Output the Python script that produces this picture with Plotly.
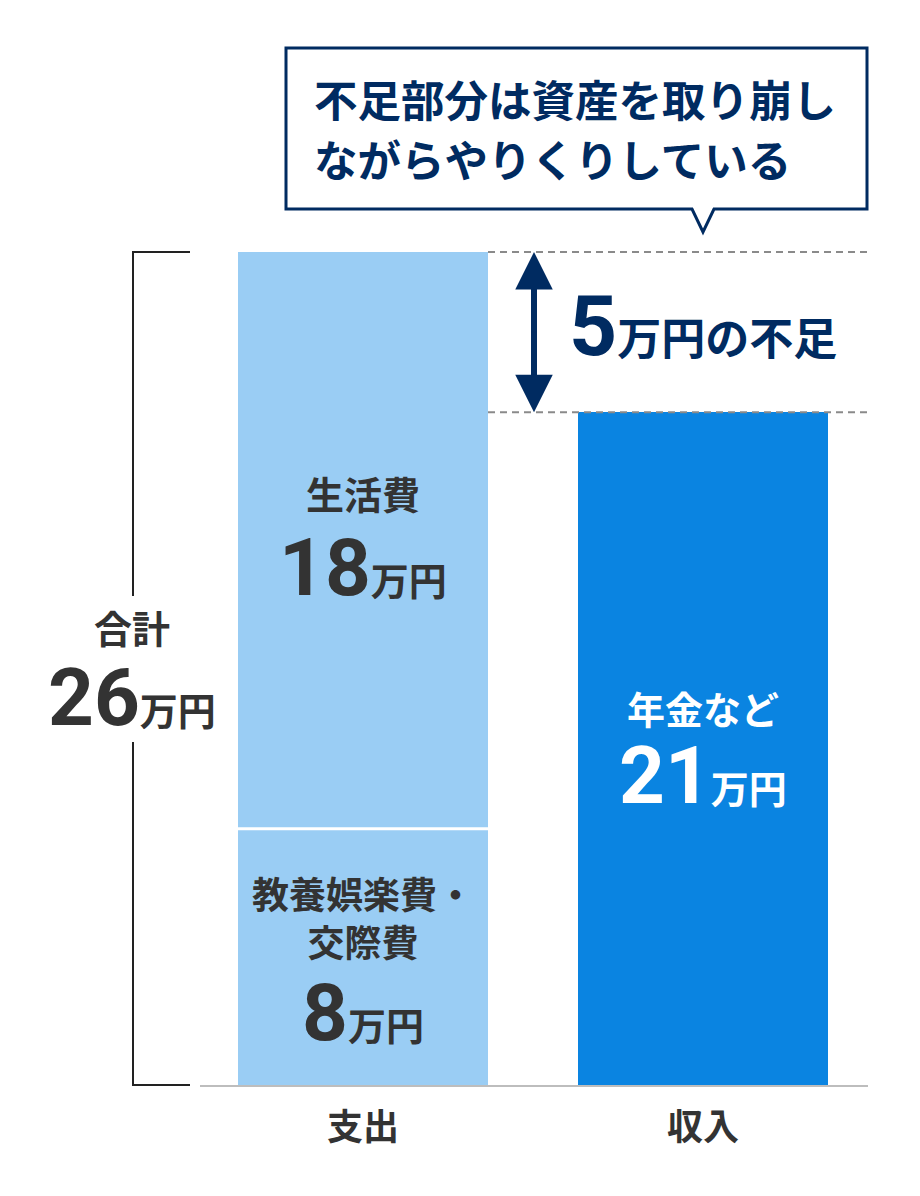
import plotly.graph_objects as go

# ---- data ----
categories = ["支出", "収入"]
expense_labels = ["教養娯楽費・", "交際費", "生活費"]
expense_values = [8, 18]          # 万円
income_label = "年金など"
income_value = 21                 # 万円
unit = "万円"
shortfall_suffix = "の不足"
total_label = "合計"
callout_lines = ["不足部分は資産を取り崩し", "ながらやりくりしている"]

total = sum(expense_values)
shortfall = total - income_value

# ---- styles ----
LIGHT = "#9ACDF4"
DARK = "#0A84E1"
NAVY = "#002B61"
TXT = "#333333"
CJK = "Noto Sans CJK JP"
NUM = "Roboto"

OFF = 8  # page body margin
W, H = 920 - OFF, 1196 - OFF
ML, MR, MT, MB = 200 - OFF, 52, 40 - OFF, 111
PLOT_W = W - ML - MR
PLOT_H = H - MT - MB
PX_PER_UNIT = 833 / total
YMAX = PLOT_H / PX_PER_UNIT
PX_PER_CAT = 340
X0 = -163 / PX_PER_CAT
X1 = X0 + PLOT_W / PX_PER_CAT
BAR_W = 250 / PX_PER_CAT


def xpx(p):  # screen pixel -> x data
    return X0 + (p - OFF - ML) / PX_PER_CAT


def ypx(p):  # screen pixel -> y data
    return (H - MB - (p - OFF)) / PX_PER_UNIT


def paper_x(p):
    return (p - OFF - ML) / PLOT_W


def paper_y(p):
    return (H - MB - (p - OFF)) / PLOT_H


fig = go.Figure()
fig.add_trace(go.Bar(x=[0], y=[expense_values[0]], width=BAR_W,
                     marker=dict(color=LIGHT, line=dict(width=0)), hoverinfo="skip"))
fig.add_trace(go.Bar(x=[0], y=[expense_values[1]], width=BAR_W,
                     marker=dict(color=LIGHT, line=dict(width=0)), hoverinfo="skip"))
fig.add_trace(go.Bar(x=[1], y=[income_value], width=BAR_W,
                     marker=dict(color=DARK, line=dict(width=0)), hoverinfo="skip"))


def amount(v, big, suffix=""):
    return (f"<span style='font-family:{NUM};font-size:{big}px'><b>{v}</b></span>"
            f"<b>{unit}{suffix}</b>")


ann = []


def text(x, y, s, size, color, xanchor="center", xref="x", yref="y"):
    ann.append(dict(x=x, y=y, xref=xref, yref=yref, text=s, showarrow=False,
                    xanchor=xanchor, yanchor="middle", borderpad=0,
                    font=dict(family=CJK, size=size, color=color)))


# expense labels
text(0, ypx(492), f"<b>{expense_labels[2]}</b>", 38, TXT)
text(0, ypx(568), amount(expense_values[1], 80), 38, TXT)
text(0, ypx(917), f"<b>{expense_labels[0]}<br>{expense_labels[1]}</b>", 37, TXT)
text(0, ypx(1013), amount(expense_values[0], 80), 38, TXT)
# income labels
text(1, ypx(707), f"<b>{income_label}</b>", 38, "white")
text(1, ypx(776), amount(income_value, 80), 38, "white")
# total
text(paper_x(132), ypx(626), f"<b>{total_label}</b>", 38, TXT, xref="paper")
text(paper_x(132), ypx(698), amount(total, 80), 38, TXT, xref="paper")
# shortfall
text(xpx(568), ypx(326), amount(shortfall, 84, shortfall_suffix), 44, NAVY, xanchor="left")
# callout text
text(paper_x(313), paper_y(99), f"<b>{callout_lines[0]}</b>", 43.5, NAVY, xanchor="left",
     xref="paper", yref="paper")
text(paper_x(313), paper_y(159), f"<b>{callout_lines[1]}</b>", 43.5, NAVY, xanchor="left",
     xref="paper", yref="paper")

# double arrow (shaft + two heads)
AX = xpx(534)
mid = (total + income_value) / 2
for end in (total, income_value):
    ann.append(dict(x=AX, y=end, ax=AX, ay=mid, xref="x", yref="y", axref="x", ayref="y",
                    text="", showarrow=True, arrowhead=2, arrowsize=1.25, arrowwidth=6,
                    arrowcolor=NAVY, standoff=0, startstandoff=0, borderpad=0,
                    font=dict(size=1)))

shapes = []
shapes.append(dict(type="line", xref="x", yref="y", x0=AX, x1=AX,
                   y0=income_value + 0.6, y1=total - 0.6,
                   line=dict(color=NAVY, width=6)))
# dashed guides
for lvl in (total, income_value):
    shapes.append(dict(type="line", xref="x", yref="y", x0=BAR_W / 2, x1=X1, y0=lvl, y1=lvl,
                       line=dict(color="#8A8A8A", width=2, dash="7px,5px")))
# separator between stacked segments
shapes.append(dict(type="line", xref="x", yref="y", x0=-BAR_W / 2, x1=BAR_W / 2,
                   y0=expense_values[0], y1=expense_values[0],
                   line=dict(color="white", width=3)))
# bracket for total
bx, bt = paper_x(133), paper_x(190)
top_p, bot_p = total / YMAX, 0
gap_top, gap_bot = paper_y(596), paper_y(742)
shapes.append(dict(type="path", xref="paper", yref="paper",
                   path=f"M{bt},{top_p} L{bx},{top_p} L{bx},{gap_top}",
                   line=dict(color="#222222", width=2)))
shapes.append(dict(type="path", xref="paper", yref="paper",
                   path=f"M{bx},{gap_bot} L{bx},{bot_p} L{bt},{bot_p}",
                   line=dict(color="#222222", width=2)))
# callout box with tail
L_, R_, T_, B_ = paper_x(286), paper_x(867), paper_y(48), paper_y(209)
tl, tt, tr, ty = paper_x(692), paper_x(703), paper_x(714), paper_y(232)
shapes.append(dict(type="path", xref="paper", yref="paper",
                   path=(f"M{L_},{T_} L{R_},{T_} L{R_},{B_} L{tr},{B_} L{tt},{ty} "
                         f"L{tl},{B_} L{L_},{B_} Z"),
                   fillcolor="white", line=dict(color=NAVY, width=3), layer="below"))

fig.update_layout(
    width=W, height=H, margin=dict(l=ML, r=MR, t=MT, b=MB),
    barmode="stack", showlegend=False, bargap=0,
    plot_bgcolor="white", paper_bgcolor="white",
    xaxis=dict(range=[X0, X1], tickvals=[0, 1],
               ticktext=[f"<b>{c}</b>" for c in categories],
               tickfont=dict(family=CJK, size=36, color=TXT),
               showgrid=False, zeroline=False, showline=True,
               linecolor="#BDBDBD", linewidth=2, ticks="", ticklabelstandoff=10),
    yaxis=dict(range=[0, YMAX], visible=False, showgrid=False, zeroline=False),
    annotations=ann, shapes=shapes,
)

fig.write_html("out.html")
